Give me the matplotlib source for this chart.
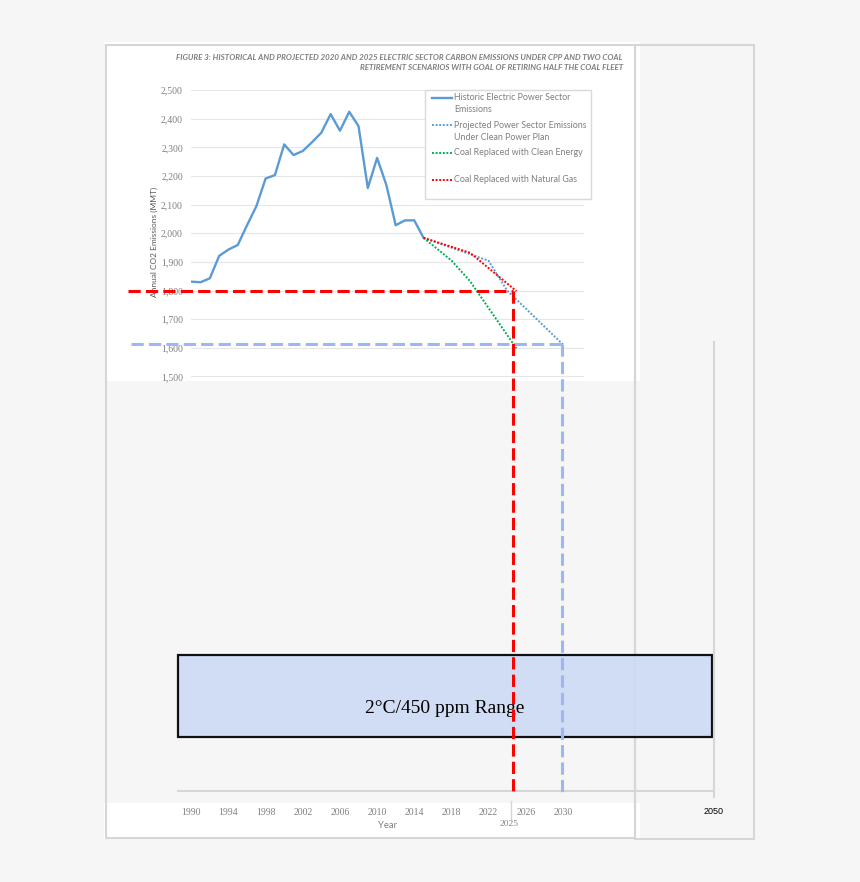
import matplotlib
matplotlib.use('Agg')
import matplotlib.pyplot as plt
from matplotlib.patches import Rectangle
from matplotlib.ticker import FuncFormatter

# historic electric power sector emissions (MMT CO2)
hist_years = list(range(1990, 2016))
hist_emissions = [1831, 1829, 1843, 1921, 1943, 1959, 2028, 2094, 2191, 2203,
                  2310, 2273, 2287, 2318, 2351, 2416, 2358, 2424, 2374, 2158,
                  2263, 2168, 2028, 2045, 2045, 1984]

# projections
cpp_years = [2015, 2022, 2024, 2030]
cpp_emissions = [1984, 1904, 1800, 1612]
clean_years = [2015, 2018, 2020, 2025]
clean_emissions = [1984, 1905, 1833, 1598]
gas_years = [2015, 2020, 2025]
gas_emissions = [1984, 1932, 1798]

# hand-drawn guide lines on top of the chart
red_guide_x = [1983.2, 2024.6]
red_guide_y = [1797, 39]
blue_guide_x = [1983.5, 2029.95]
blue_guide_y = [1612, 39]

ytick_values = list(range(1500, 2600, 100))
xtick_years = list(range(1990, 2031, 4))

legend_labels = ['Historic Electric Power Sector\nEmissions',
                 'Projected Power Sector Emissions\nUnder Clean Power Plan',
                 'Coal Replaced with Clean Energy',
                 'Coal Replaced with Natural Gas']
legend_colors = ['#5b9bd5', '#5b9bd5', '#00b050', '#ff0000']
legend_styles = ['-', (0, (1, 0.85)), (0, (1, 0.85)), (0, (1, 0.85))]

title_lines = ['FIGURE 3: HISTORICAL AND PROJECTED 2020 AND 2025 ELECTRIC SECTOR CARBON EMISSIONS UNDER CPP AND TWO COAL',
               'RETIREMENT SCENARIOS WITH GOAL OF RETIRING HALF THE COAL FLEET']

W, H = 860, 882
fig = plt.figure(figsize=(W / 100, H / 100), dpi=100, facecolor='#f6f6f6')

# background canvas in pixel units
bg = fig.add_axes([0, 0, 1, 1])
bg.set_xlim(0, W)
bg.set_ylim(H, 0)
bg.axis('off')
bg.add_patch(Rectangle((105, 42), 535, 339, fc='white', ec='none'))
bg.add_patch(Rectangle((104, 803), 536, 36, fc='white', ec='none'))
bg.add_patch(Rectangle((106, 45), 529, 793, fill=False, ec='#d6d6d6', lw=1.5))
bg.add_patch(Rectangle((635, 45), 119, 794, fill=False, ec='#d6d6d6', lw=1.5))
bg.plot([714, 714], [342, 797], color='#d6d6d6', lw=1.5)
bg.plot([178, 714], [791, 791], color='#d6d6d6', lw=1.5)
bg.plot([511, 511], [801, 820], color='#d6d6d6', lw=1)

bg.add_patch(Rectangle((178, 655), 534, 82, fc='#cfdbf5', ec='black', lw=1.6, alpha=0.93))
bg.text(445, 713, '2°C/450 ppm Range', fontsize=14, family='Liberation Serif',
        ha='center', va='baseline', color='black')

for i, line in enumerate(title_lines):
    bg.text(623, 57 + 11 * i, line, ha='right', va='center', fontsize=5.8,
            style='italic', color='#7f7f7f', family='Lato', fontweight='bold')

bg.text(154, 242, 'Annual CO2 Emissions (MMT)', rotation=90, ha='center', va='center',
        fontsize=6.0, color='#595959', family='Lato')
bg.text(509, 824, '2025', ha='center', va='center', fontsize=6.8, color='#808080',
        family='Liberation Serif')
bg.text(714, 811, '2050', ha='center', va='center', fontsize=6.5, color='black',
        family='Liberation Sans')

# data axes
x0, x1, ytop, ybot = 191.3, 584, 90, 791
px_per_year = 9.29
px_per_unit = 0.2865
ax = fig.add_axes([x0 / W, (H - ybot) / H, (x1 - x0) / W, (ybot - ytop) / H])
ax.set_xlim(1990, 1990 + (x1 - x0) / px_per_year)
ax.set_ylim(2500 - (ybot - ytop) / px_per_unit, 2500)
ax.patch.set_alpha(0)
for s in ax.spines.values():
    s.set_visible(False)
ax.set_axisbelow(True)
ax.set_yticks(ytick_values)
ax.yaxis.set_major_formatter(FuncFormatter(lambda v, p: f'{int(v):,}'))
ax.yaxis.grid(True, color='#e6e6e6', lw=0.8)
ax.tick_params(axis='y', length=0, pad=6, labelsize=7, labelcolor='#808080')
ax.set_xticks(xtick_years)
ax.tick_params(axis='x', length=0, pad=12, labelsize=7, labelcolor='#808080')
plt.setp(ax.get_yticklabels() + ax.get_xticklabels(), family='Liberation Serif')
ax.set_xlabel('Year', fontsize=6.8, color='#808080', family='Lato', labelpad=3)

ax.plot(hist_years, hist_emissions, color='#5b9bd5', lw=1.7, zorder=3)
ax.plot(cpp_years, cpp_emissions, color='#5b9bd5', lw=1.4, ls=(0, (1, 0.85)), zorder=3)
ax.plot(clean_years, clean_emissions, color='#00b050', lw=1.4, ls=(0, (1, 0.85)), zorder=3)
ax.plot(gas_years, gas_emissions, color='#ff0000', lw=1.4, ls=(0, (1, 0.85)), zorder=3)

dash = (0, (4, 1.7))
ax.plot([blue_guide_x[0], blue_guide_x[1]], [blue_guide_y[0], blue_guide_y[0]],
        color='#9db7f5', lw=2.2, ls=dash, clip_on=False, zorder=5)
ax.plot([blue_guide_x[1], blue_guide_x[1]], blue_guide_y,
        color='#9db7f5', lw=2.2, ls=dash, clip_on=False, zorder=5)
ax.plot([red_guide_x[0], red_guide_x[1]], [red_guide_y[0], red_guide_y[0]],
        color='#ff0000', lw=2.2, ls=dash, clip_on=False, zorder=6)
ax.plot([red_guide_x[1], red_guide_x[1]], red_guide_y,
        color='#ff0000', lw=2.2, ls=dash, clip_on=False, zorder=6)

# legend drawn on an overlay in pixel units
top = fig.add_axes([0, 0, 1, 1])
top.set_xlim(0, W)
top.set_ylim(H, 0)
top.axis('off')
top.add_patch(Rectangle((425, 90), 166, 109, fc='white', ec='#d9d9d9', lw=1))
for i, (label, color, style) in enumerate(zip(legend_labels, legend_colors, legend_styles)):
    y = 97.5 + 27.5 * i
    top.plot([432, 452], [y, y], color=color, lw=1.7 if style == '-' else 1.4, ls=style)
    for j, line in enumerate(label.split('\n')):
        top.text(454, y + 12 * j, line, va='center', ha='left', fontsize=6.4,
                 color='#7f7f7f', family='Lato')

fig.savefig('out.png', dpi=100, facecolor=fig.get_facecolor())
